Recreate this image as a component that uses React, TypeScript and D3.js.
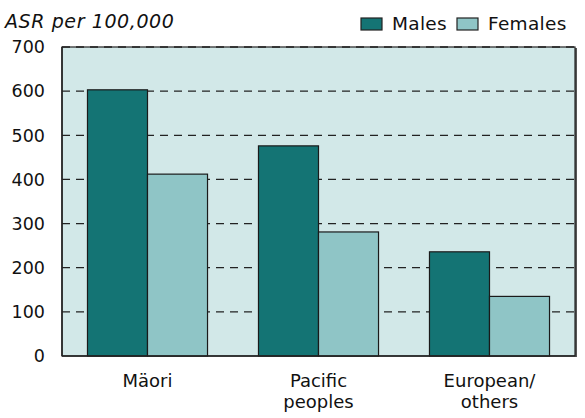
import React from 'react';
import * as d3 from 'd3';

const groups = ['Mäori', 'Pacific\npeoples', 'European/\nothers'];
const males = [603, 476, 236];
const females = [412, 281, 135];
const yTicks = [0, 100, 200, 300, 400, 500, 600, 700];
const seriesNames = ['Males', 'Females'];
const seriesColors = ['#147474', '#8fc5c6'];

const App = () => {
  const W = 585, H = 418;
  const margin = { top: 47, left: 62 };
  const innerW = 575 - margin.left;
  const innerH = 356 - margin.top;
  const font = '"DejaVu Sans", sans-serif';

  const x0 = d3.scaleBand().domain(groups).range([0, innerW]).paddingInner(0.298).paddingOuter(0.149);
  const x1 = d3.scaleBand().domain(seriesNames).range([0, x0.bandwidth()]);
  const y = d3.scaleLinear().domain([0, 700]).range([innerH, 0]);

  return (
    <div style={{ position: 'absolute', left: 0, top: 0 }}>
      <svg width={W} height={H} style={{ display: 'block', fontFamily: font }}>
        <rect width={W} height={H} fill="#fff" />
        <text x={5} y={28} fontSize={19} fontStyle="italic" letterSpacing={0.6} fill="#111">ASR per 100,000</text>

        {/* legend */}
        {seriesNames.map((s, i) => {
          const lx = i === 0 ? 361 : 457;
          return (
            <g key={s}>
              <rect x={lx} y={18} width={21} height={12} fill={seriesColors[i]} stroke="#222" strokeWidth={1.2} />
              <text x={lx + 31} y={30} fontSize={18.5} letterSpacing={0.3} fill="#111">{s}</text>
            </g>
          );
        })}

        <g transform={`translate(${margin.left},${margin.top})`}>
          {/* shadow on right */}
          <rect x={innerW} y={1} width={2} height={innerH} fill="#555" />
          <rect x={0} y={0} width={innerW} height={innerH} fill="#d2e8e8" stroke="#222" strokeWidth={1.2} />
          {yTicks.filter(t => t > 0).map(t => (
            <line key={t} x1={0} x2={innerW} y1={y(t)} y2={y(t)} stroke="#222" strokeWidth={1.3} strokeDasharray="8,6" />
          ))}
          {groups.map((g, gi) => (
            <g key={g} transform={`translate(${x0(g)},0)`}>
              {[males[gi], females[gi]].map((v, si) => (
                <rect key={si} x={x1(seriesNames[si])} y={y(v)} width={x1.bandwidth()} height={innerH - y(v)}
                  fill={seriesColors[si]} stroke="#1a1a1a" strokeWidth={1.2} />
              ))}
            </g>
          ))}
          <line x1={0} x2={innerW} y1={innerH} y2={innerH} stroke="#222" strokeWidth={1.5} />
          <line x1={0} x2={0} y1={0} y2={innerH} stroke="#222" strokeWidth={1.5} />
          {yTicks.map(t => (
            <text key={t} x={-17} y={y(t)} dy="0.36em" textAnchor="end" fontSize={17.5} fill="#111">{t}</text>
          ))}
          {groups.map(g => (
            <text key={g} x={(x0(g) ?? 0) + x0.bandwidth() / 2} y={innerH + 31} textAnchor="middle" fontSize={18} fill="#111">
              {g.split('\n').map((line, i) => (
                <tspan key={i} x={(x0(g) ?? 0) + x0.bandwidth() / 2} dy={i === 0 ? 0 : 21}>{line}</tspan>
              ))}
            </text>
          ))}
        </g>
      </svg>
    </div>
  );
};

export default App;
